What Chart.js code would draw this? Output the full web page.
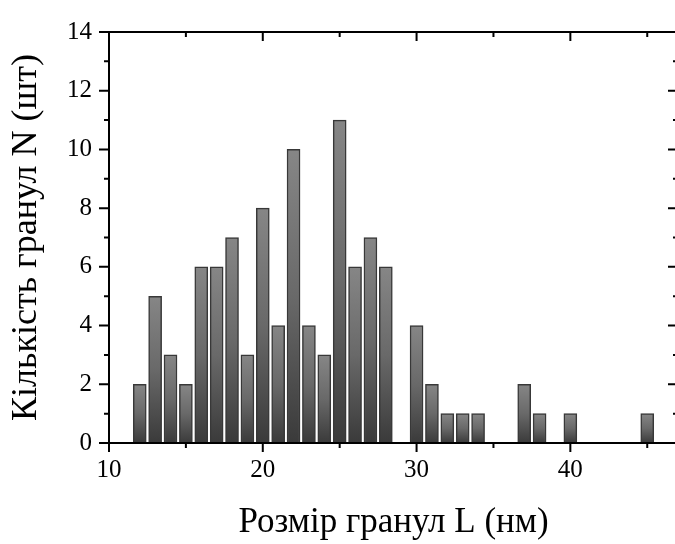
<!DOCTYPE html>
<html>
<head>
<meta charset="utf-8">
<script src="https://cdn.jsdelivr.net/npm/chart.js@4"></script>
<style>
  html, body { margin: 0; padding: 0; background: #fff; overflow: hidden; }
  #wrap { width: 690px; height: 544px; }
</style>
</head>
<body>
<div id="wrap"><canvas id="chart" width="690" height="544"></canvas></div>
<script>
// histogram data
const sizes = [12, 13, 14, 15, 16, 17, 18, 19, 20, 21, 22, 23, 24, 25, 26, 27, 28, 29,
  30, 31, 32, 33, 34, 35, 36, 37, 38, 39, 40, 41, 42, 43, 44, 45];
const counts = [2, 5, 3, 2, 6, 6, 7, 3, 8, 4, 10, 4, 3, 11, 6, 7, 6, 0,
  4, 2, 1, 1, 1, 0, 0, 2, 1, 0, 1, 0, 0, 0, 0, 1];

const xMajor = [10, 20, 30, 40];
const xMinor = [15, 25, 35, 45];
const yMajor = [0, 2, 4, 6, 8, 10, 12, 14];
const yMinor = [1, 3, 5, 7, 9, 11, 13];

const serif = '"Liberation Serif", "DejaVu Serif", serif';

// each bar shades from light grey at its top to dark grey at its base
function barFill(context) {
  const chart = context.chart;
  const y = chart.scales.y;
  if (!chart.chartArea || !y || !context.parsed) return '#666';
  const top = y.getPixelForValue(context.parsed.y);
  const base = y.getPixelForValue(0);
  if (base - top < 1) return '#444';
  const g = chart.ctx.createLinearGradient(0, top, 0, base);
  g.addColorStop(0, '#868686');
  g.addColorStop(0.5, '#696969');
  g.addColorStop(1, '#3a3a3a');
  return g;
}

// frame with ticks on all four sides
const framePlugin = {
  id: 'frame',
  afterDraw(chart) {
    const { ctx, chartArea: a, scales: { x, y } } = chart;
    ctx.save();
    ctx.strokeStyle = '#000';
    ctx.lineWidth = 2;
    ctx.strokeRect(a.left, a.top, a.right - a.left, a.bottom - a.top);
    ctx.beginPath();
    const xt = (v, len) => {
      const px = x.getPixelForValue(v);
      ctx.moveTo(px, a.bottom); ctx.lineTo(px, a.bottom + len);
      ctx.moveTo(px, a.top); ctx.lineTo(px, a.top + len);
    };
    const yt = (v, len) => {
      const py = y.getPixelForValue(v);
      ctx.moveTo(a.left, py); ctx.lineTo(a.left - len, py);
      ctx.moveTo(a.right, py); ctx.lineTo(a.right - len, py);
    };
    xMajor.forEach(v => xt(v, 9));
    xMinor.forEach(v => xt(v, 5));
    yMajor.forEach(v => yt(v, 10));
    yMinor.forEach(v => yt(v, 5));
    ctx.stroke();
    ctx.restore();
  }
};

new Chart(document.getElementById('chart'), {
  type: 'bar',
  data: {
    datasets: [{
      data: sizes.map((s, i) => ({ x: s, y: counts[i] })),
      backgroundColor: barFill,
      borderColor: '#383838',
      borderWidth: 1.5,
      barThickness: 13
    }]
  },
  options: {
    responsive: false,
    animation: false,
    layout: { padding: { top: 24, right: 12, left: 0, bottom: 0 } },
    plugins: { legend: { display: false }, tooltip: { enabled: false } },
    scales: {
      x: {
        type: 'linear',
        min: 10,
        max: 47,
        offset: false,
        grid: { display: false, drawTicks: false, offset: false },
        border: { display: false },
        afterBuildTicks: s => { s.ticks = xMajor.map(v => ({ value: v })); },
        afterFit: s => { s.height = 101; },
        ticks: { color: '#000', font: { family: serif, size: 25 }, padding: 12, maxRotation: 0 },
        title: {
          display: true,
          text: 'Розмір гранул L (нм)',
          color: '#000',
          font: { family: serif, size: 35 },
          padding: { top: 0, bottom: 0 }
        }
      },
      y: {
        min: 0,
        max: 14,
        grid: { display: false, drawTicks: false },
        border: { display: false },
        afterBuildTicks: s => { s.ticks = yMajor.map(v => ({ value: v })); },
        afterFit: s => { s.width = 109; },
        ticks: { color: '#000', font: { family: serif, size: 25 }, padding: 17 },
        title: {
          display: true,
          text: 'Кількість гранул N (шт)',
          color: '#000',
          font: { family: serif, size: 36 },
          padding: { top: 5, bottom: 0 }
        }
      }
    }
  },
  plugins: [framePlugin]
});
</script>
</body>
</html>
